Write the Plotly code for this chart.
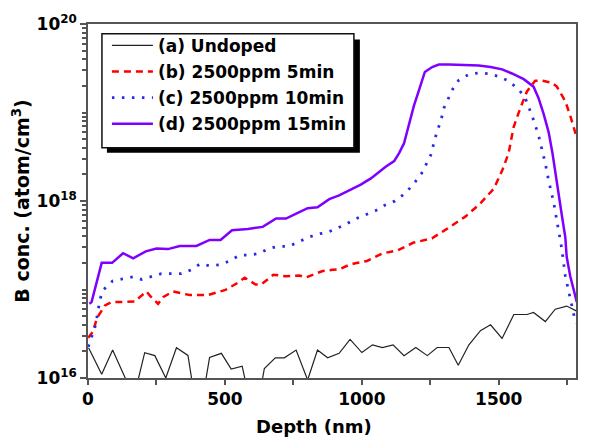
import plotly.graph_objects as go

# ---------------- data ----------------
names = ["(a) Undoped", "(b) 2500ppm 5min", "(c) 2500ppm 10min", "(d) 2500ppm 15min"]

depth_a = [2, 50, 90, 150, 177, 207, 244, 284, 323, 365, 383, 426, 444, 487, 523, 563, 574, 632, 644, 684,
           717, 760, 802, 838, 875, 917, 957, 1000, 1039, 1075, 1114, 1154, 1197, 1239, 1275, 1318, 1352,
           1391, 1433, 1470, 1512, 1555, 1603, 1627, 1670, 1706, 1748, 1785]
conc_a = [2.2e16, 1.1e16, 2.07e16, 8e15, 8e15, 1.93e16, 1.79e16, 1.0e16, 2.2e16, 1.8e16, 8e15, 8e15, 1.71e16,
          1.9e16, 1.26e16, 1.36e16, 9.5e15, 8e15, 1.28e16, 1.69e16, 1.69e16, 2.07e16, 9.5e15, 2.07e16,
          1.69e16, 1.9e16, 2.73e16, 1.94e16, 2.37e16, 2.21e16, 2.37e16, 1.79e16, 2.21e16, 1.79e16, 2.21e16,
          2.21e16, 1.39e16, 2.37e16, 3.43e16, 3.99e16, 2.8e16, 5.22e16, 5.22e16, 5.5e16, 4.34e16, 5.99e16,
          6.5e16, 5.69e16]

depth_b = [1, 19, 32, 62, 86, 129, 171, 189, 214, 226, 256, 274, 310, 371, 437, 502, 547, 572, 612, 633, 663,
           677, 721, 772, 796, 832, 857, 893, 917, 954, 976, 1019, 1074, 1132, 1187, 1209, 1256, 1312, 1379,
           1433, 1482, 1512, 1536, 1554, 1579, 1603, 1633, 1657, 1694, 1712, 1743, 1761, 1784]
conc_b = [2.85e16, 3.37e16, 4.72e16, 6.6e16, 7.2e16, 7.2e16, 7.3e16, 8.2e16, 9.5e16, 8.5e16, 6.9e16, 8.2e16,
          9.5e16, 8.65e16, 8.65e16, 9.9e16, 1.19e17, 1.36e17, 1.14e17, 1.14e17, 1.36e17, 1.47e17, 1.41e17,
          1.44e17, 1.37e17, 1.5e17, 1.62e17, 1.67e17, 1.69e17, 1.9e17, 1.98e17, 2.1e17, 2.55e17, 2.78e17,
          3.37e17, 3.5e17, 3.78e17, 4.87e17, 6.7e17, 9.4e17, 1.38e18, 2.19e18, 3.48e18, 6.8e18, 1.13e19,
          1.73e19, 2.29e19, 2.29e19, 2.17e19, 1.96e19, 1.34e19, 9.2e18, 5.3e18]

depth_c = [1, 13, 25, 32, 37, 44, 56, 90, 126, 165, 195, 232, 268, 305, 341, 377, 410, 444, 481, 517, 553, 590,
           624, 660, 696, 733, 766, 802, 838, 875, 910, 942, 978, 1015, 1051, 1085, 1121, 1158, 1190, 1218,
           1235, 1251, 1269, 1281, 1291, 1300, 1315, 1332, 1354, 1391, 1427, 1461, 1496, 1530, 1564, 1594,
           1621, 1645, 1670, 1682, 1700, 1716, 1730, 1743, 1758, 1775, 1781]
conc_c = [2.25e16, 2.9e16, 3.73e16, 4.72e16, 5.99e16, 7.8e16, 9.9e16, 1.25e17, 1.32e17, 1.39e17, 1.3e17,
          1.41e17, 1.51e17, 1.51e17, 1.51e17, 1.67e17, 1.95e17, 1.85e17, 1.9e17, 2.1e17, 2.44e17, 2.44e17,
          2.55e17, 2.9e17, 3.07e17, 3.07e17, 3.43e17, 3.85e17, 4.23e17, 4.42e17, 4.92e17, 5.45e17, 6.3e17,
          7.0e17, 7.8e17, 9.0e17, 1.0e18, 1.22e18, 1.57e18, 2.05e18, 2.55e18, 3.26e18, 5.3e18, 6.8e18,
          8.65e18, 1.13e19, 1.43e19, 1.84e19, 2.32e19, 2.7e19, 2.8e19, 2.75e19, 2.57e19, 2.32e19, 1.93e19,
          1.53e19, 9.3e18, 5.55e18, 2.66e18, 1.7e18, 9.8e17, 4.8e17, 2.9e17, 1.42e17, 8.65e16, 5.2e16, 4.16e16]

depth_d = [5, 13, 50, 88, 128, 165, 211, 250, 292, 335, 396, 444, 484, 526, 584, 638, 687, 723, 766, 802, 838,
           881, 917, 960, 996, 1033, 1063, 1087, 1118, 1136, 1154, 1166, 1175, 1190, 1209, 1230, 1257, 1281,
           1318, 1427, 1470, 1512, 1548, 1591, 1627, 1645, 1664, 1682, 1696, 1706, 1718, 1730, 1743, 1748,
           1761, 1773, 1785]
conc_d = [6.9e16, 7.2e16, 2.0e17, 2.0e17, 2.57e17, 2.25e17, 2.7e17, 2.9e17, 2.86e17, 3.1e17, 3.1e17, 3.63e17,
          3.63e17, 4.68e17, 4.84e17, 5.1e17, 6.34e17, 6.34e17, 7.33e17, 8.3e17, 8.5e17, 1.05e18, 1.16e18,
          1.35e18, 1.53e18, 1.8e18, 2.14e18, 2.44e18, 2.82e18, 3.48e18, 4.49e18, 6.3e18, 8.1e18, 1.19e19,
          1.8e19, 2.87e19, 3.26e19, 3.48e19, 3.48e19, 3.4e19, 3.26e19, 3.07e19, 2.76e19, 2.38e19, 1.96e19,
          1.46e19, 9.6e18, 6.0e18, 3.48e18, 2.1e18, 1.26e18, 7.0e17, 3.89e17, 2.34e17, 1.41e17, 1.0e17, 7.2e16]

x_tickvals = [0, 500, 1000, 1500]
x_ticktext = ["0", "500", "1000", "1500"]
y_tickvals = [1e16, 1e18, 1e20]
y_ticktext = ["10<sup>16</sup>", "10<sup>18</sup>", "10<sup>20</sup>"]
x_title = "Depth (nm)"
y_title = "B conc. (atom/cm<sup>3</sup>)"

# ---------------- figure ----------------
FONT = "DejaVu Sans"
fig = go.Figure()

styles = [
    dict(color="#222222", width=1.2, dash="solid"),
    dict(color="#ff0000", width=2.5, dash="7px,5px"),
    dict(color="#2a2ae6", width=2.8, dash="2.5px,7.5px"),
    dict(color="#8000ff", width=2.5, dash="solid"),
]
series = [(depth_a, conc_a), (depth_b, conc_b), (depth_c, conc_c), (depth_d, conc_d)]
for i, ((xs, ys), nm, st) in enumerate(zip(series, names, styles)):
    fig.add_trace(go.Scatter(x=xs, y=ys, mode="lines", name=nm, line=st,
                             legendgroup=str(i)))

W, H = 590, 438
L, R, T, B = 88, 12, 15, 60
pw, ph = W - L - R, H - T - B
def px2x(px): return (px - L) / pw
def py2y(py): return (H - B - py) / ph

# legend frame with drop shadow
fig.add_shape(type="rect", xref="paper", yref="paper",
              x0=px2x(107), x1=px2x(361), y0=py2y(147), y1=py2y(31),
              fillcolor="black", line=dict(width=0), layer="above")
fig.add_shape(type="rect", xref="paper", yref="paper",
              x0=px2x(102), x1=px2x(355), y0=py2y(142), y1=py2y(25),
              fillcolor="white", line=dict(color="#111111", width=1.5), layer="above")

fig.add_annotation(text=x_title, xref="paper", yref="paper", x=px2x(315), y=py2y(428),
                   xanchor="center", yanchor="middle", showarrow=False,
                   font=dict(family=FONT, size=18, weight="bold", color="black"))

fig.update_layout(
    width=W, height=H,
    margin=dict(l=L, r=R, t=T, b=B),
    paper_bgcolor="white", plot_bgcolor="white",
    font=dict(family=FONT, size=17, color="black", weight="bold"),
    showlegend=True,
    legend=dict(x=px2x(107), y=py2y(19), xanchor="left", yanchor="top",
                bgcolor="rgba(0,0,0,0)", borderwidth=0,
                font=dict(family=FONT, size=17, color="black", weight="bold"),
                itemwidth=41, tracegroupgap=1, traceorder="grouped"),
    xaxis=dict(range=[0, 1782], tickmode="array", tickvals=x_tickvals, ticktext=x_ticktext,
               ticks="outside", ticklen=5, tickwidth=1.5, tickcolor="#555555",
               minor=dict(ticks="outside", ticklen=5, tickwidth=1.5, tickcolor="#555555",
                          tick0=0, dtick=250, showgrid=False),
               showline=True, linecolor="#555555", linewidth=1.5, mirror=True,
               showgrid=False, zeroline=False,
               tickfont=dict(family=FONT, size=17, weight="bold")),
    yaxis=dict(type="log", range=[16, 20], tickmode="array", tickvals=y_tickvals, ticktext=y_ticktext,
               ticks="outside", ticklen=6, tickwidth=1.5, tickcolor="#555555",
               minor=dict(ticks="outside", ticklen=4, tickcolor="#555555", dtick="D1", showgrid=False),
               showline=True, linecolor="#555555", linewidth=1.5, mirror=True,
               showgrid=False, zeroline=False,
               tickfont=dict(family=FONT, size=17, weight="bold"),
               title=dict(text=y_title, font=dict(family=FONT, size=19, weight="bold"), standoff=2)),
)

fig.write_html("out.html")
